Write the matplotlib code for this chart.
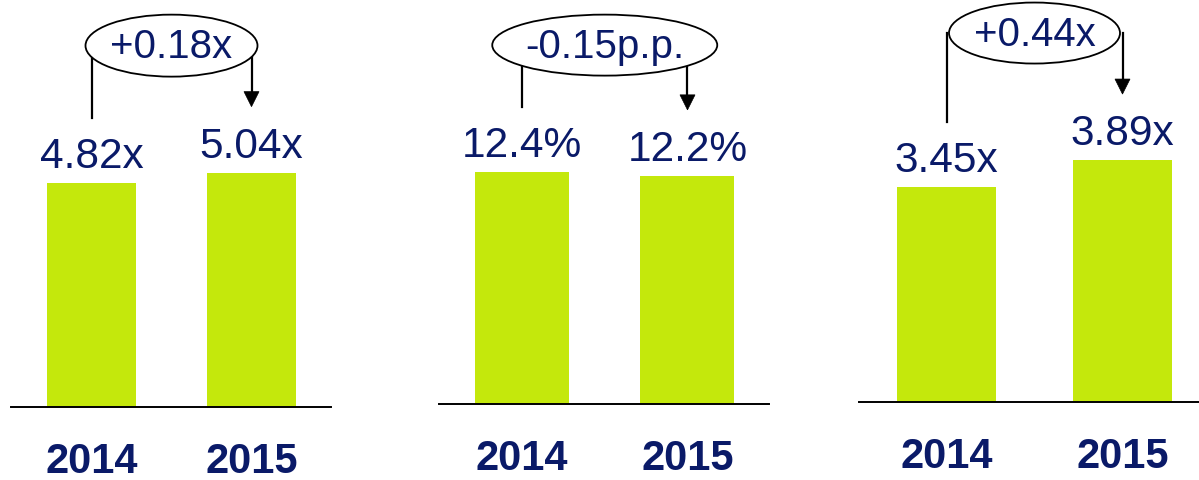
import matplotlib
matplotlib.use('Agg')
import matplotlib.pyplot as plt
from matplotlib.patches import Ellipse, Polygon
from matplotlib.lines import Line2D
from matplotlib.transforms import IdentityTransform

plt.rcParams['font.family'] = ['Liberation Sans', 'DejaVu Sans']

# ---- data ----
years = ['2014', '2015']
leverage = [4.82, 5.04]
leverage_labels = ['4.82x', '5.04x']
margin = [12.4, 12.2]
margin_labels = ['12.4%', '12.2%']
coverage = [3.45, 3.89]
coverage_labels = ['3.45x', '3.89x']
change_labels = ['+0.18x', '-0.15p.p.', '+0.44x']

series = [leverage, margin, coverage]
series_labels = [leverage_labels, margin_labels, coverage_labels]

# ---- style / layout (pixels) ----
W, H = 1199, 480
GREEN = '#C4E80C'
NAVY = '#0A1A68'
# left, right, baseline, center1, center2, bar width, px per unit, ellipse w, ellipse h
layout = [
    (11, 331, 407, 91.5, 251.5, 89, 46.5, 172, 62),
    (439, 769, 404, 522, 687.5, 94, 18.7, 225, 61),
    (859, 1199, 402, 946.5, 1122.5, 99, 62.2, 171, 61),
]

fig = plt.figure(figsize=(W / 100, H / 100), dpi=100)
ID = IdentityTransform()

for vals, labs, chg, lay in zip(series, series_labels, change_labels, layout):
    left, right, base, c1, c2, bw, scale, ew, eh = lay
    ax = fig.add_axes([left / W, (H - base) / H, (right - left) / W, base / H])
    sp = c2 - c1
    ax.set_xlim(-(c1 - left) / sp, (right - c1) / sp)
    ax.set_ylim(0, base / scale)
    xs = list(range(len(vals)))
    ax.bar(xs, vals, width=bw / sp, color=GREEN, zorder=2)
    for s in ['top', 'right', 'left']:
        ax.spines[s].set_visible(False)
    ax.spines['bottom'].set_linewidth(1.4)
    ax.spines['bottom'].set_color('black')
    ax.set_xticks([])
    ax.set_yticks([])
    ax.patch.set_alpha(0)

    for x, v, lab, yr in zip(xs, vals, labs, years):
        ax.annotate(lab, (x, v), xytext=(0, 15), textcoords='offset pixels',
                    ha='center', va='baseline', fontsize=30.5, color=NAVY)
        ax.annotate(yr, (x, 0), xytext=(0, -66), textcoords='offset pixels',
                    ha='center', va='baseline', fontsize=30, fontweight='bold',
                    color=NAVY)

    # change annotation in display pixels
    p0 = ax.transData.transform((xs[0], vals[0]))
    p1 = ax.transData.transform((xs[1], vals[1]))
    top = max(p0[1], p1[1])
    cx = (p0[0] + p1[0]) / 2
    cy = top + 127
    fig.add_artist(Line2D([p0[0], p0[0]], [cy, p0[1] + 65], transform=ID,
                          color='black', lw=1.6, zorder=2))
    tip = p1[1] + 66
    fig.add_artist(Line2D([p1[0], p1[0]], [cy, tip + 13], transform=ID,
                          color='black', lw=1.6, zorder=2))
    fig.add_artist(Polygon([(p1[0] - 7.5, tip + 15), (p1[0] + 7.5, tip + 15),
                            (p1[0], tip)], closed=True, transform=ID,
                           facecolor='black', edgecolor='black', lw=0.5,
                           zorder=2))
    fig.add_artist(Ellipse((cx, cy), ew, eh, transform=ID, facecolor='white',
                           edgecolor='black', lw=1.3, zorder=3))
    fig.text(cx, cy - 12.5, chg, transform=ID, ha='center', va='baseline',
             fontsize=29, color=NAVY, zorder=4)

fig.savefig('out.png', dpi=100)
